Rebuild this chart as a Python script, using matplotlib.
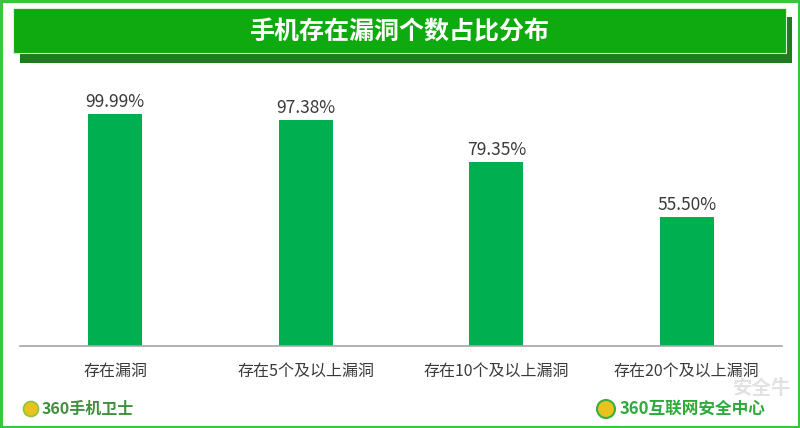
import matplotlib
matplotlib.use("Agg")
import matplotlib.pyplot as plt
from matplotlib.patches import Rectangle, Ellipse

plt.rcParams['font.family'] = ['Noto Sans CJK SC', 'DejaVu Sans']

title = "手机存在漏洞个数占比分布"
categories = ["存在漏洞", "存在5个及以上漏洞", "存在10个及以上漏洞", "存在20个及以上漏洞"]
values = [99.99, 97.38, 79.35, 55.50]
value_labels = ["99.99%", "97.38%", "79.35%", "55.50%"]

W, H = 800, 428
fig = plt.figure(figsize=(W / 100, H / 100), dpi=100)
fig.patch.set_facecolor("white")

def fx(px):
    return px / W

def fy(py):
    return 1 - py / H

# outer border
fig.patches.append(Rectangle((fx(1), fy(427)), fx(798), 426 / H, transform=fig.transFigure,
                             fill=False, edgecolor="#3CC43C", linewidth=2.2, zorder=0))

# title banner shadow + main
fig.patches.append(Rectangle((fx(20), fy(63)), fx(772), 46 / H, transform=fig.transFigure,
                             facecolor="#1E7B1E", edgecolor="none", zorder=1))
fig.patches.append(Rectangle((fx(13), fy(53)), fx(773), 45 / H, transform=fig.transFigure,
                             facecolor="#0FAA0F", edgecolor="#D8F2D8", linewidth=0.8, zorder=2))
fig.text(fx(400), fy(32), title, ha="center", va="center", color="white",
         fontsize=18, fontweight="bold", zorder=3)

# main axes
ax = fig.add_axes([fx(20), fy(346), fx(762), 278 / H])
x = list(range(len(categories)))
bars = ax.bar(x, values, width=0.285, color="#00B050", zorder=2)
for xi, v, lab in zip(x, values, value_labels):
    ax.text(xi, v + 1.5, lab, ha="center", va="bottom", fontsize=12.5, color="#3A3A3A")
ax.set_xlim(-0.5, len(categories) - 0.5)
ax.set_ylim(0, 120)
ax.set_xticks(x)
ax.set_xticklabels(categories, fontsize=11.5, color="#3A3A3A")
ax.tick_params(axis="x", length=0, pad=12)
ax.set_yticks([])
for s in ["top", "left", "right"]:
    ax.spines[s].set_visible(False)
ax.spines["bottom"].set_color("#A6A6A6")
ax.spines["bottom"].set_linewidth(1.2)
ax.set_facecolor("none")

# watermark
fig.text(fx(762), fy(389), "安全牛", ha="center", va="center", color="#E2E2E2",
         fontsize=14, fontweight="bold", zorder=0)

# footer logos
fig.patches.append(Ellipse((fx(31), fy(409)), fx(15), 15 / H, transform=fig.transFigure,
                           facecolor="#E8C21E", edgecolor="#8CC63F", linewidth=1.2, zorder=3))
fig.text(fx(42), fy(409), "360手机卫士", ha="left", va="center", color="#3F8F3F",
         fontsize=11.5, fontweight="bold")
fig.patches.append(Ellipse((fx(606), fy(409)), fx(18), 18 / H, transform=fig.transFigure,
                           facecolor="#E8C21E", edgecolor="#3DAE3D", linewidth=1.5, zorder=3))
fig.text(fx(620), fy(409), "360互联网安全中心", ha="left", va="center", color="#2EAA3A",
         fontsize=12, fontweight="bold")

fig.savefig("out.png", dpi=100, facecolor="white")
